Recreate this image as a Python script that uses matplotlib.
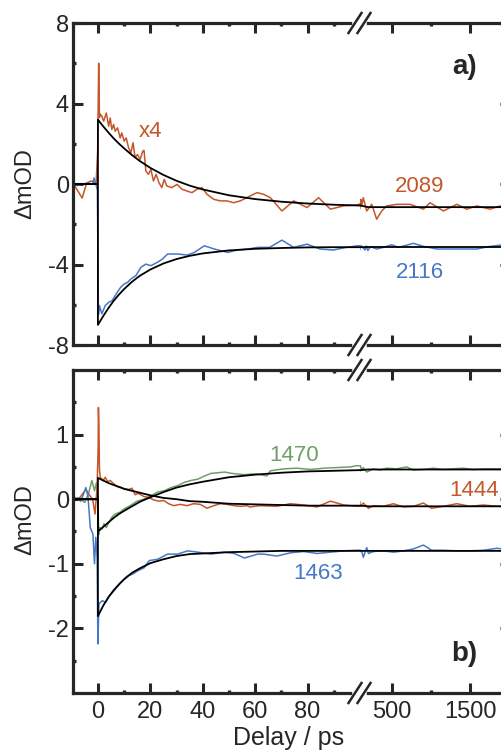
import matplotlib
matplotlib.use('Agg')
import matplotlib.pyplot as plt
from matplotlib.ticker import FixedLocator
from matplotlib.lines import Line2D

plt.rcParams['font.family'] = ['Liberation Sans', 'DejaVu Sans']
plt.rcParams['axes.unicode_minus'] = False  # plain hyphen like the original

# ---- data (delay in ps, signal in mOD) ----
# panel a) 2089 (scaled x4)
t_2089 = [-9.5, -8.8, -6.0, -4.3, -2.6, -1.6, -0.7, -0.1, 0.3, 0.6, 0.9, 1.5, 2.2, 3.2, 4.1, 4.7, 5.3, 6.0,
          6.6, 7.5, 8.5, 9.1, 10.0, 10.8, 11.7, 12.6, 13.4, 14.2, 15.1, 16.1, 17.1, 17.6, 18.3, 19.3, 20.2,
          21.2, 22.2, 23.3, 24.4, 25.3, 26.3, 28.2, 30.2, 32.1, 34.0, 35.9, 37.8, 39.7, 41.6, 44.2, 46.7,
          49.2, 51.8, 54.3, 56.8, 58.1, 60.7, 63.2, 65.8, 70.2, 74.7, 79.8, 84.2, 88.7, 93.7, 98.9, 105,
          117, 137, 181, 245, 308, 372, 436, 564, 734, 904, 989, 1159, 1330, 1458, 1585, 1755, 1883, 1920]
v_2089 = [0.0, -0.1, -0.7, 0.05, 0.15, 0.1, 0.0, 1.6, 6.0, 3.3, 3.47, 3.37, 3.12, 3.53, 2.87, 3.28, 2.71, 2.96,
          2.62, 2.79, 2.29, 2.54, 2.13, 2.29, 1.80, 1.55, 2.05, 1.30, 1.47, 1.22, 1.63, 1.67, 0.64, 0.48, 0.73,
          0.15, 0.48, 0.06, -0.18, 0.23, -0.10, -0.18, -0.02, -0.26, -0.35, -0.43, -0.26, -0.18, -0.51, -0.76,
          -0.84, -0.84, -0.93, -0.84, -0.68, -0.59, -0.43, -0.51, -0.68, -1.34, -0.84, -1.17, -0.68, -1.25,
          -1.09, -1.04, -0.76, -1.09, -0.68, -1.34, -1.01, -1.75, -1.34, -1.09, -1.01, -1.01, -1.25, -0.93,
          -1.34, -1.01, -1.25, -1.09, -1.25, -1.09, -1.15]

# panel a) 2116
t_2116 = [-9.5, -7, -4, -2, -1.5, -0.8, -0.2, 0.2, 0.6, 1.5, 2.8, 4.1, 5.4, 7.4, 8.7, 10.0, 11.3, 12.6, 14.5,
          16.4, 18.3, 20.2, 22.7, 24.6, 26.6, 30.4, 34.2, 36.8, 40.6, 44.4, 49.5, 53.3, 57.2, 61.0, 65.5,
          70.2, 74.7, 79.8, 84.7, 89.8, 94.8, 99.0, 120, 159, 175, 195, 230, 308, 393, 500, 585, 777, 904,
          1075, 1245, 1415, 1585, 1755, 1883, 1920]
v_2116 = [0.0, -0.05, 0.05, 0.0, 0.3, 0.0, -0.3, -6.5, -6.04, -6.45, -6.04, -5.88, -5.80, -5.38, -5.13, -4.97,
          -4.89, -4.72, -4.55, -4.14, -3.98, -4.06, -3.89, -3.73, -3.48, -3.48, -3.53, -3.40, -3.07, -3.23,
          -3.40, -3.28, -3.23, -3.15, -3.15, -2.79, -3.15, -2.99, -3.23, -3.28, -3.15, -3.07, -3.10, -3.28,
          -3.08, -3.30, -3.12, -3.23, -3.15, -3.02, -3.15, -2.95, -3.10, -3.23, -3.23, -3.23, -3.23, -3.10,
          -3.04, -3.05]

# panel b) 1470
t_1470 = [-9.5, -7, -5, -3.5, -2.3, -1.3, -0.6, 0.0, 0.3, 0.8, 1.7, 2.3, 3.2, 4.2, 5.3, 6.6, 8.5, 10.0, 12.3,
          14.9, 17.6, 20.2, 22.7, 25.3, 27.9, 30.4, 33.0, 35.5, 38.1, 40.7, 43.2, 45.8, 48.4, 51.0, 53.5,
          56.1, 58.7, 60.7, 64.5, 65.8, 70.9, 76.0, 81.1, 86.2, 91.3, 96.4, 98.8, 117, 137, 181, 266, 351,
          436, 564, 691, 777, 904, 1032, 1159, 1287, 1415, 1543, 1670, 1840, 1920]
v_1470 = [0.0, 0.02, -0.05, 0.1, 0.29, 0.13, 0.25, 0.05, -0.55, -0.44, -0.46, -0.38, -0.44, -0.36, -0.28,
          -0.23, -0.20, -0.15, -0.10, -0.03, 0.0, 0.05, 0.11, 0.13, 0.18, 0.21, 0.26, 0.29, 0.31, 0.36, 0.40,
          0.41, 0.42, 0.40, 0.39, 0.38, 0.39, 0.39, 0.36, 0.44, 0.47, 0.48, 0.46, 0.48, 0.49, 0.50, 0.52, 0.45,
          0.49, 0.42, 0.47, 0.45, 0.48, 0.47, 0.50, 0.45, 0.46, 0.48, 0.46, 0.47, 0.48, 0.46, 0.47, 0.47, 0.47]

# panel b) 1444
t_1444 = [-9.5, -7, -4.6, -3, -2, -1.1, -0.3, 0.1, 0.2, 0.4, 0.6, 0.9, 2.0, 2.8, 3.7, 4.7, 6.0, 7.3, 8.5, 10.0,
          11.7, 13.0, 14.2, 15.5, 17.6, 19.3, 21.2, 23.2, 25.1, 27.0, 28.9, 31.4, 34.0, 36.5, 39.1, 41.6,
          44.2, 46.8, 49.3, 51.9, 54.4, 56.9, 58.0, 61.9, 68.3, 73.4, 78.5, 83.6, 88.7, 93.8, 98.9, 137, 203,
          266, 393, 521, 649, 777, 904, 1010, 1159, 1330, 1500, 1670, 1840, 1920]
v_1444 = [0.0, 0.02, 0.15, 0.05, 0.0, -0.23, 0.2, 0.8, 1.42, 1.1, 0.45, 0.34, 0.29, 0.34, 0.27, 0.29, 0.24,
          0.20, 0.19, 0.16, 0.15, 0.17, 0.07, 0.09, 0.04, 0.03, -0.01, -0.03, -0.02, -0.07, -0.10, -0.08,
          -0.10, -0.07, -0.08, -0.14, -0.10, -0.07, -0.08, -0.10, -0.11, -0.10, -0.12, -0.10, -0.11, -0.07,
          -0.09, -0.12, -0.03, -0.09, -0.11, -0.06, -0.14, -0.10, -0.11, -0.07, -0.12, -0.11, -0.06, -0.14,
          -0.11, -0.07, -0.11, -0.09, -0.11, -0.11]

# panel b) 1463
t_1463 = [-9.5, -8, -6.5, -4.6, -3.8, -2.9, -1.9, -1.3, -0.8, -0.3, 0.0, 0.4, 1.7, 2.9, 4.2, 6.1, 8.7, 11.2,
          13.2, 15.1, 17.7, 19.6, 22.8, 26.6, 30.4, 34.2, 38.1, 43.2, 48.3, 52.0, 55.9, 58.5, 61.0, 63.2, 68.3,
          73.4, 78.5, 83.6, 88.7, 93.8, 98.9, 117, 137, 181, 203, 266, 393, 521, 649, 777, 904, 1010, 1159,
          1330, 1500, 1670, 1840, 1920]
v_1463 = [0.05, 0.0, -0.03, 0.18, 0.05, -0.44, -0.54, -1.0, -0.59, -0.9, -2.24, -1.62, -1.57, -1.60, -1.50,
          -1.42, -1.29, -1.19, -1.16, -1.11, -1.06, -0.95, -0.93, -0.85, -0.85, -0.80, -0.82, -0.85, -0.82,
          -0.84, -0.91, -0.88, -0.85, -0.85, -0.88, -0.83, -0.81, -0.84, -0.82, -0.80, -0.79, -0.80, -0.90,
          -0.75, -0.84, -0.81, -0.80, -0.82, -0.80, -0.77, -0.71, -0.79, -0.79, -0.80, -0.80, -0.79, -0.76,
          -0.77]

# fitted curves (black), read at these delays
fit_t = [-9.5, 0, 0, 2, 4, 6, 8, 10, 13, 16, 20, 25, 30, 35, 40, 50, 60, 70, 80, 90, 100, 200, 500, 1920]
fit_2089 = [0, 0, 3.20, 2.87, 2.56, 2.27, 2.01, 1.77, 1.44, 1.14, 0.80, 0.45, 0.16, -0.08, -0.27, -0.56, -0.75,
            -0.88, -0.97, -1.03, -1.07, -1.15, -1.15, -1.15]
fit_2116 = [0, 0, -7.0, -6.57, -6.17, -5.81, -5.50, -5.22, -4.86, -4.56, -4.25, -3.95, -3.73, -3.57, -3.45,
            -3.30, -3.22, -3.18, -3.15, -3.14, -3.14, -3.13, -3.13, -3.13]
fit_1470 = [0, 0, -0.50, -0.43, -0.36, -0.29, -0.23, -0.18, -0.11, -0.04, 0.03, 0.11, 0.18, 0.23, 0.27, 0.34,
            0.38, 0.41, 0.43, 0.44, 0.45, 0.46, 0.46, 0.46]
fit_1444 = [0, 0, 0.33, 0.29, 0.25, 0.22, 0.19, 0.16, 0.13, 0.10, 0.06, 0.02, 0.00, -0.03, -0.04, -0.07, -0.08,
            -0.09, -0.10, -0.10, -0.10, -0.11, -0.11, -0.11]
fit_1463 = [0, 0, -1.81, -1.65, -1.52, -1.41, -1.32, -1.24, -1.14, -1.07, -0.99, -0.93, -0.88, -0.85, -0.84,
            -0.82, -0.81, -0.80, -0.80, -0.80, -0.80, -0.80, -0.80, -0.80]

# tick positions
ticks_x_left = [0, 20, 40, 60, 80]
minor_x_left = [10, 30, 50, 70, 90]
ticks_x_right = [500, 1500]
minor_x_right = [1000]
ticks_y_a = [-8, -4, 0, 4, 8]
minor_y_a = [-6, -2, 2, 6]
ticks_y_b = [-2, -1, 0, 1]
minor_y_b = [-2.5, -1.5, -0.5, 0.5, 1.5]

ORANGE = '#c5562b'
BLUE = '#4678c8'
GREEN = '#6f9f68'
AX = '#262626'

W, H = 502, 751
LX0, BRK, RX1 = 73, 360, 503   # pixel positions of left spine, break, right spine


def make_panel(fig, top_px, bot_px, ylim, ymaj, ymin, show_xlabels):
    b = 1 - bot_px / H
    h = (bot_px - top_px) / H
    axl = fig.add_axes([LX0 / W, b, (BRK - LX0) / W, h])
    axr = fig.add_axes([BRK / W, b, (RX1 - BRK) / W, h])
    for ax in (axl, axr):
        ax.set_ylim(*ylim)
        for s in ax.spines.values():
            s.set_linewidth(2.3)
            s.set_color(AX)
        ax.tick_params(which='both', direction='in', colors=AX, labelsize=17, top=True, bottom=True)
        ax.tick_params(which='major', length=7, width=2.2, pad=6)
        ax.tick_params(which='minor', length=2.2, width=2.4)
        ax.patch.set_alpha(0)
    axl.set_xlim(-9.5, 100)
    axr.set_xlim(95, 1920)
    axl.spines['right'].set_visible(False)
    axr.spines['left'].set_visible(False)
    axl.xaxis.set_major_locator(FixedLocator(ticks_x_left))
    axl.xaxis.set_minor_locator(FixedLocator(minor_x_left))
    axr.xaxis.set_major_locator(FixedLocator(ticks_x_right))
    axr.xaxis.set_minor_locator(FixedLocator(minor_x_right))
    axl.yaxis.set_major_locator(FixedLocator(ymaj))
    axl.yaxis.set_minor_locator(FixedLocator(ymin))
    axl.tick_params(axis='y', which='both', right=False, pad=3)
    axr.yaxis.set_major_locator(FixedLocator(ymaj))
    axr.yaxis.set_minor_locator(FixedLocator([]))
    axr.tick_params(axis='y', which='major', left=False, right=True, labelleft=False, length=2.2, width=2.4)
    if not show_xlabels:
        axl.tick_params(axis='x', labelbottom=False)
        axr.tick_params(axis='x', labelbottom=False)
    return axl, axr


def draw_break(fig, y_px):
    # white gap in the spine with two slanted strokes
    fy = lambda p: 1 - p / H
    fig.add_artist(Line2D([355 / W, 364 / W], [fy(y_px), fy(y_px)], color='white', lw=4, zorder=10))
    for cx in (355, 364):
        fig.add_artist(Line2D([(cx - 6.5) / W, (cx + 6.5) / W], [fy(y_px + 10), fy(y_px - 10)],
                              color=AX, lw=1.8, zorder=11))


fig = plt.figure(figsize=(W / 100, H / 100), dpi=100)

# panel a)
a_l, a_r = make_panel(fig, 23, 345, (-8, 8), ticks_y_a, minor_y_a, False)
for ax in (a_l, a_r):
    ax.plot(t_2089, v_2089, color=ORANGE, lw=1.1)
    ax.plot(t_2116, v_2116, color=BLUE, lw=1.1)
    ax.plot(fit_t, fit_2089, color='black', lw=1.3)
    ax.plot(fit_t, fit_2116, color='black', lw=1.3)
a_l.text(20, 2.6, 'x4', color=ORANGE, fontsize=16, ha='center', va='center')
a_r.text(861, -0.1, '2089', color=ORANGE, fontsize=16, ha='center', va='center')
a_r.text(861, -4.4, '2116', color=BLUE, fontsize=16, ha='center', va='center')
a_r.text(1430, 5.8, 'a)', fontsize=20, fontweight='bold', ha='center', va='center', color=AX)

# panel b)
b_l, b_r = make_panel(fig, 370, 693, (-3, 2), ticks_y_b, minor_y_b, True)
for ax in (b_l, b_r):
    ax.plot(t_1470, v_1470, color=GREEN, lw=1.1)
    ax.plot(t_1444, v_1444, color=ORANGE, lw=1.1)
    ax.plot(t_1463, v_1463, color=BLUE, lw=1.1)
    ax.plot(fit_t, fit_1470, color='black', lw=1.3)
    ax.plot(fit_t, fit_1444, color='black', lw=1.3)
    ax.plot(fit_t, fit_1463, color='black', lw=1.3)
b_l.text(75, 0.67, '1470', color=GREEN, fontsize=16, ha='center', va='center')
b_r.text(1551, 0.13, '1444', color=ORANGE, fontsize=16, ha='center', va='center')
b_l.text(84, -1.15, '1463', color=BLUE, fontsize=16, ha='center', va='center')
b_r.text(1430, -2.4, 'b)', fontsize=20, fontweight='bold', ha='center', va='center', color=AX)

for y in (23, 345, 370, 693):
    draw_break(fig, y)

fig.text(25 / W, 1 - 184 / H, '\u0394mOD', rotation=90, ha='center', va='center', fontsize=17, color=AX)
fig.text(25 / W, 1 - 520 / H, '\u0394mOD', rotation=90, ha='center', va='center', fontsize=17, color=AX)
fig.text(289 / W, 1 - 745 / H, 'Delay / ps', ha='center', va='baseline', fontsize=18, color=AX)

fig.savefig('out.png', dpi=100)
